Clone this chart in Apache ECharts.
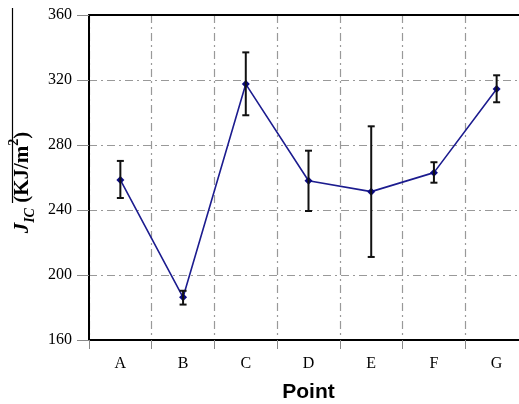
<!DOCTYPE html>
<html><head><meta charset="utf-8">
<script src="https://cdn.jsdelivr.net/npm/echarts@6/dist/echarts.min.js"></script>
<style>html,body{margin:0;padding:0;background:#fff}#c{width:519px;height:404px}</style>
</head><body><div id="c"></div>
<script>
const categories = ['A','B','C','D','E','F','G'];
const values = [258.5, 186.3, 317.5, 258, 251.3, 263, 314.5];
const errLow = [247.4, 181.8, 298.3, 239.4, 211.1, 256.8, 306.3];
const errHigh = [270.2, 190.3, 337, 276.5, 291.5, 269.4, 322.9];
const yTicks = [160, 200, 240, 280, 320, 360];

const chart = echarts.init(document.getElementById('c'), null, {renderer:'canvas'});
const dashDot = [8, 4, 2, 4];
chart.setOption({
  animation: false,
  grid: {left: 89, top: 15, height: 325, width: 439, outerBoundsMode: 'none', containLabel: false},
  xAxis: [{
    type: 'category', data: categories, boundaryGap: true,
    name: 'Point', nameLocation: 'middle', nameGap: 42,
    nameTextStyle: {fontFamily: 'Liberation Sans', fontWeight: 'bold', fontSize: 21, color: '#000'},
    axisLine: {lineStyle: {color: '#000', width: 2}},
    axisTick: {show: true, length: 9, lineStyle: {color: '#888', width: 1}},
    axisLabel: {fontFamily: 'Liberation Serif', fontSize: 16, color: '#000', margin: 16},
    splitLine: {show: true, lineStyle: {color: '#999', width: 1.2, type: dashDot}}
  }, {
    type: 'category', data: categories, position: 'top',
    axisLine: {show: true, lineStyle: {color: '#000', width: 2}},
    axisTick: {show: false}, axisLabel: {show: false}, splitLine: {show: false}
  }],
  yAxis: {
    type: 'value', min: yTicks[0], max: yTicks[yTicks.length-1], interval: 40,
    name: '{i|J}{sub|IC}{b|\u00a0(KJ/m}{sup|2}{b|)}', nameLocation: 'middle', nameGap: 45, nameRotate: 90,
    nameTextStyle: {
      color: '#000', padding: [0, 10, 0, 0],
      rich: {
        i: {fontFamily: 'Liberation Serif', fontStyle: 'italic', fontWeight: 'bold', fontSize: 21, color: '#000', lineHeight: 30, verticalAlign: 'middle'},
        sub: {fontFamily: 'Liberation Serif', fontStyle: 'italic', fontWeight: 'bold', fontSize: 14, color: '#000', lineHeight: 30, verticalAlign: 'bottom'},
        b: {fontFamily: 'Liberation Serif', fontWeight: 'bold', fontSize: 21, color: '#000', lineHeight: 30, verticalAlign: 'middle'},
        sup: {fontFamily: 'Liberation Serif', fontWeight: 'bold', fontSize: 14, color: '#000', lineHeight: 30, verticalAlign: 'top'}
      }
    },
    axisLine: {show: true, lineStyle: {color: '#000', width: 2}},
    axisTick: {show: true, length: 12, lineStyle: {color: '#888', width: 1}},
    axisLabel: {fontFamily: 'Liberation Serif', fontSize: 16, color: '#000', margin: 17},
    splitLine: {show: true, showMaxLine: false, lineStyle: {color: '#999', width: 1.2, type: dashDot}}
  },
  graphic: [{type: 'line', shape: {x1: 12.5, y1: 8, x2: 12.5, y2: 203}, style: {stroke: '#000', lineWidth: 1.2}}],
  series: [
    {
      type: 'line', data: values, symbol: 'diamond', symbolSize: 8,
      lineStyle: {color: '#1c1c8f', width: 1.6},
      itemStyle: {color: '#0a0a80'}, z: 3
    },
    {
      type: 'custom', z: 4,
      data: categories.map((c, i) => [i, errLow[i], errHigh[i]]),
      renderItem: function (params, api) {
        const lo = api.coord([api.value(0), api.value(1)]);
        const hi = api.coord([api.value(0), api.value(2)]);
        const w = 3.5;
        const st = {stroke: '#111', lineWidth: 2};
        return {type: 'group', children: [
          {type: 'line', shape: {x1: lo[0], y1: lo[1], x2: hi[0], y2: hi[1]}, style: st},
          {type: 'line', shape: {x1: lo[0]-w, y1: lo[1], x2: lo[0]+w, y2: lo[1]}, style: st},
          {type: 'line', shape: {x1: hi[0]-w, y1: hi[1], x2: hi[0]+w, y2: hi[1]}, style: st}
        ]};
      }
    }
  ]
});
</script></body></html>
